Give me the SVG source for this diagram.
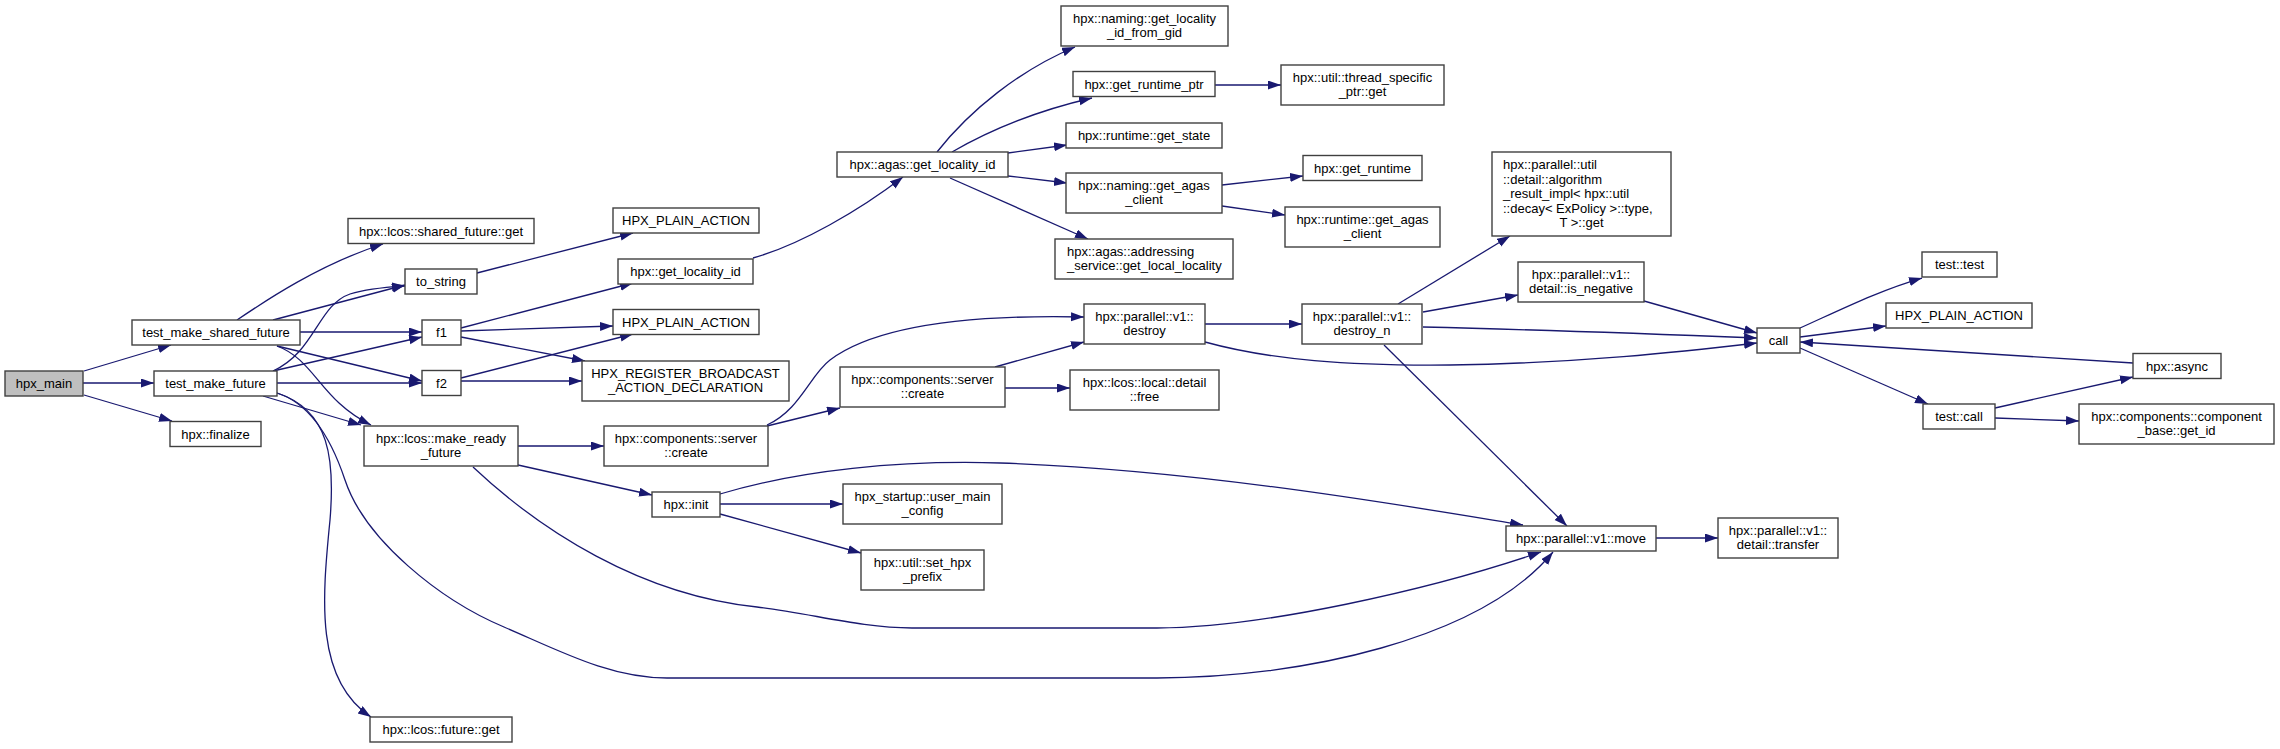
<svg xmlns="http://www.w3.org/2000/svg" width="2280" height="749" viewBox="0 0 2280 749">
<style>
.n rect{fill:#fff;stroke:#404040;stroke-width:1.4}
.m rect{fill:#bfbfbf}
text{font-family:"Liberation Sans",Arial,sans-serif;font-size:13px;fill:#000;text-anchor:middle}
text.l{text-anchor:start}
.e path{fill:none;stroke:#191970;stroke-width:1.3;marker-end:url(#a)}
</style>
<defs>
<marker id="a" markerUnits="userSpaceOnUse" markerWidth="14" markerHeight="10" refX="13" refY="4.5" orient="auto"><path d="M0,0 L13,4.5 L0,9 z" fill="#191970"/></marker>
</defs>
<rect width="2280" height="749" fill="#fff"/>
<g class="e" id="edges">
<path d="M84,371 L171,345"/>
<path d="M83,383 L154,383"/>
<path d="M84,395 L172,421"/>
<path d="M237,320 C265,301 320,264 383,244"/>
<path d="M273,320 L405,285"/>
<path d="M300,332 L422,332"/>
<path d="M277,346 L422,381"/>
<path d="M277,346 C315,360 320,400 371,425"/>
<path d="M273,371 C315,352 318,305 350,294 C370,288 390,287 405,286"/>
<path d="M273,371 L422,337"/>
<path d="M277,383 L422,383"/>
<path d="M263,396 L361,425"/>
<path d="M277,393 C330,410 335,460 330,520 C322,600 315,680 371,717"/>
<path d="M277,393 C315,405 335,450 345,480 C365,540 440,600 504,627 C560,651 610,678 667,678 L1157,678 C1300,678 1480,640 1553,552"/>
<path d="M518,446 L604,446"/>
<path d="M518,465 L652,495"/>
<path d="M473,467 C540,530 640,595 757,607 C810,613 860,628 912,628 L1157,628 C1260,628 1430,590 1541,552"/>
<path d="M720,504 L843,504"/>
<path d="M720,514 L861,553"/>
<path d="M720,494 C800,470 900,460 1000,463 C1200,470 1400,505 1523,525"/>
<path d="M767,426 L840,408"/>
<path d="M767,425 C800,410 810,375 830,360 C870,330 950,314 1084,317"/>
<path d="M995,367 L1084,342"/>
<path d="M1005,388 L1070,388"/>
<path d="M1205,324 L1302,324"/>
<path d="M1205,342 C1270,360 1350,366 1450,365 C1580,363 1680,352 1757,343"/>
<path d="M1398,304 L1510,236"/>
<path d="M1423,312 L1518,295"/>
<path d="M1423,327 C1550,330 1680,335 1757,338"/>
<path d="M1644,301 L1757,333"/>
<path d="M1384,345 L1567,526"/>
<path d="M1656,538 L1718,538"/>
<path d="M1800,328 C1840,310 1880,290 1922,278"/>
<path d="M1800,337 L1886,326"/>
<path d="M2133,363 L1800,342"/>
<path d="M1800,348 L1928,404"/>
<path d="M1995,408 L2133,377"/>
<path d="M1995,418 L2079,421"/>
<path d="M477,273 L633,233"/>
<path d="M461,328 L633,283"/>
<path d="M461,331 L613,326"/>
<path d="M461,337 L585,361"/>
<path d="M461,378 L633,334"/>
<path d="M461,381 L582,381"/>
<path d="M753,258 C800,245 860,210 903,177"/>
<path d="M937,152 C970,110 1020,70 1075,47"/>
<path d="M952,152 C990,130 1040,110 1092,98"/>
<path d="M1008,153 L1067,145"/>
<path d="M1008,176 L1067,183"/>
<path d="M950,178 L1088,239"/>
<path d="M1215,85 L1281,85"/>
<path d="M1222,185 L1303,176"/>
<path d="M1222,206 L1285,215"/>
</g>
<g class="n m" id="n1"><rect x="5" y="371" width="78" height="25"/><text x="44" y="388">hpx_main</text></g>
<g class="n" id="n2"><rect x="132" y="320" width="168" height="25"/><text x="216" y="337">test_make_shared_future</text></g>
<g class="n" id="n3"><rect x="154" y="371" width="123" height="25"/><text x="215.5" y="388">test_make_future</text></g>
<g class="n" id="n4"><rect x="170" y="421.5" width="91" height="25"/><text x="215.5" y="438.5">hpx::finalize</text></g>
<g class="n" id="n5"><rect x="348" y="218.5" width="186" height="25"/><text x="441" y="235.5">hpx::lcos::shared_future::get</text></g>
<g class="n" id="n6"><rect x="405" y="269" width="72" height="25"/><text x="441" y="286">to_string</text></g>
<g class="n" id="n7"><rect x="422" y="320" width="39" height="25"/><text x="441.5" y="337">f1</text></g>
<g class="n" id="n8"><rect x="422" y="370.5" width="39" height="25"/><text x="441.5" y="387.5">f2</text></g>
<g class="n" id="n9"><rect x="582" y="361" width="207" height="40"/><text x="685.5" y="377.5">HPX_REGISTER_BROADCAST</text><text x="685.5" y="392">_ACTION_DECLARATION</text></g>
<g class="n" id="n10"><rect x="364" y="426" width="154" height="40"/><text x="441" y="442.5">hpx::lcos::make_ready</text><text x="441" y="457">_future</text></g>
<g class="n" id="n11"><rect x="370" y="717" width="142" height="25"/><text x="441" y="734">hpx::lcos::future::get</text></g>
<g class="n" id="n12"><rect x="613" y="208" width="146" height="25"/><text x="686" y="225">HPX_PLAIN_ACTION</text></g>
<g class="n" id="n13"><rect x="618" y="259" width="135" height="25"/><text x="685.5" y="276">hpx::get_locality_id</text></g>
<g class="n" id="n14"><rect x="613" y="309.5" width="146" height="25"/><text x="686" y="326.5">HPX_PLAIN_ACTION</text></g>
<g class="n" id="n15"><rect x="604" y="426" width="164" height="40"/><text x="686" y="442.5">hpx::components::server</text><text x="686" y="457">::create</text></g>
<g class="n" id="n16"><rect x="652" y="492" width="68" height="25"/><text x="686" y="509">hpx::init</text></g>
<g class="n" id="n17"><rect x="843" y="484" width="159" height="40"/><text x="922.5" y="500.5">hpx_startup::user_main</text><text x="922.5" y="515">_config</text></g>
<g class="n" id="n18"><rect x="861" y="550" width="123" height="40"/><text x="922.5" y="566.5">hpx::util::set_hpx</text><text x="922.5" y="581">_prefix</text></g>
<g class="n" id="n19"><rect x="840" y="367" width="165" height="40"/><text x="922.5" y="383.5">hpx::components::server</text><text x="922.5" y="398">::create</text></g>
<g class="n" id="n20"><rect x="837" y="152" width="171" height="25"/><text x="922.5" y="169">hpx::agas::get_locality_id</text></g>
<g class="n" id="n21"><rect x="1061" y="6" width="167" height="40"/><text x="1144.5" y="22.5">hpx::naming::get_locality</text><text x="1144.5" y="37">_id_from_gid</text></g>
<g class="n" id="n22"><rect x="1073" y="71.5" width="142" height="25"/><text x="1144" y="88.5">hpx::get_runtime_ptr</text></g>
<g class="n" id="n23"><rect x="1281" y="65" width="163" height="40"/><text x="1362.5" y="81.5">hpx::util::thread_specific</text><text x="1362.5" y="96">_ptr::get</text></g>
<g class="n" id="n24"><rect x="1066" y="123" width="156" height="25"/><text x="1144" y="140">hpx::runtime::get_state</text></g>
<g class="n" id="n25"><rect x="1066" y="173" width="156" height="40"/><text x="1144" y="189.5">hpx::naming::get_agas</text><text x="1144" y="204">_client</text></g>
<g class="n" id="n26"><rect x="1303" y="155.5" width="119" height="25"/><text x="1362.5" y="172.5">hpx::get_runtime</text></g>
<g class="n" id="n27"><rect x="1285" y="207" width="155" height="40"/><text x="1362.5" y="223.5">hpx::runtime::get_agas</text><text x="1362.5" y="238">_client</text></g>
<g class="n" id="n28"><rect x="1055" y="239" width="178" height="40"/><text class="l" x="1067" y="255.5">hpx::agas::addressing</text><text class="l" x="1067" y="270">_service::get_local_locality</text></g>
<g class="n" id="n29"><rect x="1084" y="304" width="121" height="40"/><text x="1144.5" y="320.5">hpx::parallel::v1::</text><text x="1144.5" y="335">destroy</text></g>
<g class="n" id="n30"><rect x="1302" y="304" width="120" height="40"/><text x="1362" y="320.5">hpx::parallel::v1::</text><text x="1362" y="335">destroy_n</text></g>
<g class="n" id="n31"><rect x="1070" y="370" width="149" height="40"/><text x="1144.5" y="386.5">hpx::lcos::local::detail</text><text x="1144.5" y="401">::free</text></g>
<g class="n" id="n32"><rect x="1492" y="152" width="179" height="84"/><text class="l" x="1503" y="169">hpx::parallel::util</text><text class="l" x="1503" y="183.5">::detail::algorithm</text><text class="l" x="1503" y="198">_result_impl&lt; hpx::util</text><text class="l" x="1503" y="212.5">::decay&lt; ExPolicy &gt;::type,</text><text x="1581.5" y="227">T &gt;::get</text></g>
<g class="n" id="n33"><rect x="1518" y="262" width="126" height="40"/><text x="1581" y="278.5">hpx::parallel::v1::</text><text x="1581" y="293">detail::is_negative</text></g>
<g class="n" id="n34"><rect x="1757" y="328" width="43" height="25"/><text x="1778.5" y="345">call</text></g>
<g class="n" id="n35"><rect x="1506" y="526" width="150" height="25"/><text x="1581" y="543">hpx::parallel::v1::move</text></g>
<g class="n" id="n36"><rect x="1718" y="518" width="120" height="40"/><text x="1778" y="534.5">hpx::parallel::v1::</text><text x="1778" y="549">detail::transfer</text></g>
<g class="n" id="n37"><rect x="1922" y="252" width="75" height="25"/><text x="1959.5" y="269">test::test</text></g>
<g class="n" id="n38"><rect x="1886" y="303" width="146" height="25"/><text x="1959" y="320">HPX_PLAIN_ACTION</text></g>
<g class="n" id="n39"><rect x="2133" y="353.5" width="88" height="25"/><text x="2177" y="370.5">hpx::async</text></g>
<g class="n" id="n40"><rect x="1923" y="404" width="72" height="25"/><text x="1959" y="421">test::call</text></g>
<g class="n" id="n41"><rect x="2079" y="404" width="195" height="40"/><text x="2176.5" y="420.5">hpx::components::component</text><text x="2176.5" y="435">_base::get_id</text></g>
</svg>
